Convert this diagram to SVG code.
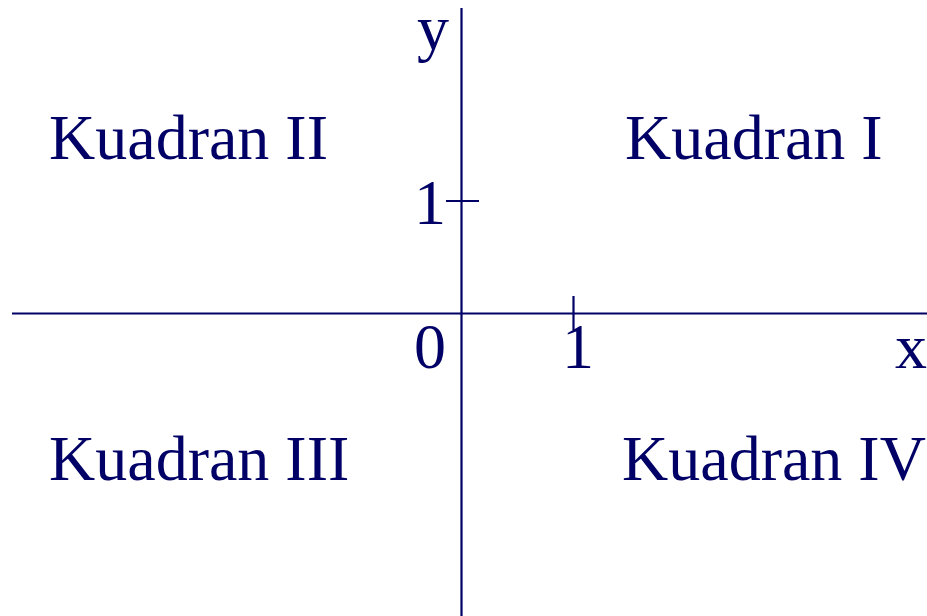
<svg xmlns="http://www.w3.org/2000/svg" width="927" height="616" viewBox="0 0 927 616">
<style>
.ax{stroke:#000066;stroke-width:2.2;fill:none}
text{font-family:"Liberation Serif","Times New Roman",serif;fill:#000066;font-size:64px}
</style>
<rect width="927" height="616" fill="#ffffff"/>
<g id="axes">
<line class="ax" x1="12" y1="313.5" x2="927" y2="313.5"/>
<line class="ax" x1="461.5" y1="8" x2="461.5" y2="616"/>
<line class="ax" x1="446" y1="201" x2="479" y2="201"/>
<line class="ax" x1="573.5" y1="296" x2="573.5" y2="330"/>
</g>
<g id="labels">
<text x="417" y="49">y</text>
<text x="414" y="224">1</text>
<text x="414" y="368">0</text>
<text x="562" y="368">1</text>
<text x="895" y="368">x</text>
</g>
<g id="q2"><text x="49" y="159">Kuadran II</text></g>
<g id="q1"><text x="625" y="159">Kuadran I</text></g>
<g id="q3"><text x="49" y="480">Kuadran III</text></g>
<g id="q4"><text x="622" y="480">Kuadran IV</text></g>
</svg>
